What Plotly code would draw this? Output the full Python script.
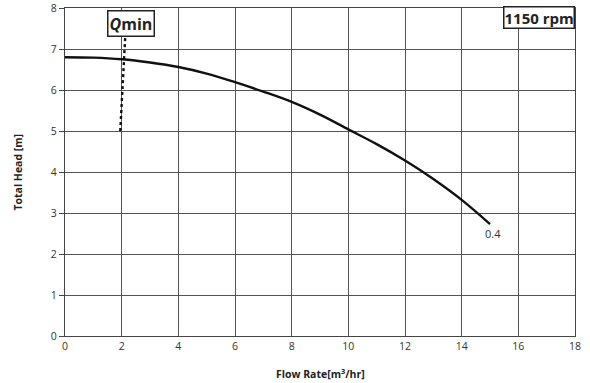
import plotly.graph_objects as go

# Pump curve data
flow = [0, 1, 2, 3, 4, 5, 6, 7, 8, 9, 10, 11, 12, 13, 14, 15]
head = [6.80, 6.79, 6.75, 6.67, 6.56, 6.40, 6.19, 5.96, 5.71, 5.40, 5.04, 4.68, 4.28, 3.83, 3.32, 2.73]

qmin_x = [1.95, 2.13]
qmin_y = [5.0, 7.35]

x_ticks = [0, 2, 4, 6, 8, 10, 12, 14, 16, 18]
y_ticks = [0, 1, 2, 3, 4, 5, 6, 7, 8]

fig = go.Figure()
fig.add_trace(go.Scatter(x=flow, y=head, mode="lines",
                         line=dict(color="#111", width=2.4, shape="spline", smoothing=1.0),
                         showlegend=False, hoverinfo="skip"))
fig.add_trace(go.Scatter(x=qmin_x, y=qmin_y, mode="lines", line=dict(color="#111", width=2.4, dash="dot"),
                         showlegend=False, hoverinfo="skip"))

font = "Open Sans, Noto Sans, sans-serif"
fig.add_annotation(x=2.33, y=7.62, text="<b><i>Q</i></b><b>min</b>", showarrow=False,
                   font=dict(family=font, size=16, color="#222"), bgcolor="white",
                   bordercolor="#222", borderwidth=1.5, borderpad=1)
fig.add_annotation(x=18, y=7.77, xanchor="right", text="<b>1150 rpm</b>", showarrow=False,
                   font=dict(family=font, size=15, color="#222"), bgcolor="white",
                   bordercolor="#222", borderwidth=1.5, borderpad=0)
fig.add_annotation(x=15.1, y=2.5, text="0.4", showarrow=False,
                   font=dict(family=font, size=11, color="#333"))

# axis titles
fig.add_annotation(xref="paper", yref="paper", x=0.5, y=-0.115, yanchor="middle",
                   text="<b>Flow Rate[m<sup>3</sup>/hr]</b>", showarrow=False,
                   font=dict(family=font, size=10.5, color="#222"))
fig.add_annotation(xref="paper", yref="paper", x=-0.093, y=0.5, xanchor="center", textangle=-90,
                   text="<b>Total Head [m]</b>", showarrow=False,
                   font=dict(family=font, size=10.5, color="#222"))

fig.update_layout(
    width=590, height=383,
    margin=dict(l=65, r=15, t=8, b=47),
    paper_bgcolor="white", plot_bgcolor="white",
    font=dict(family=font, size=10, color="#333"),
)
fig.update_xaxes(range=[0, 18], tickvals=x_ticks, showgrid=True, gridcolor="#555", gridwidth=1,
                 showline=True, linecolor="#444", linewidth=1.2, mirror=True, zeroline=False,
                 ticks="", automargin=False, tickfont=dict(size=10.5, color="#333"))
fig.update_yaxes(range=[0, 8], tickvals=y_ticks, showgrid=True, gridcolor="#555", gridwidth=1,
                 showline=True, linecolor="#444", linewidth=1.2, mirror=True, zeroline=False,
                 ticks="outside", ticklen=5, tickcolor="#444", automargin=False,
                 tickfont=dict(size=10.5, color="#333"))

fig.write_html("out.html", config={"displayModeBar": False},
               post_script="document.body.style.margin='0';")
